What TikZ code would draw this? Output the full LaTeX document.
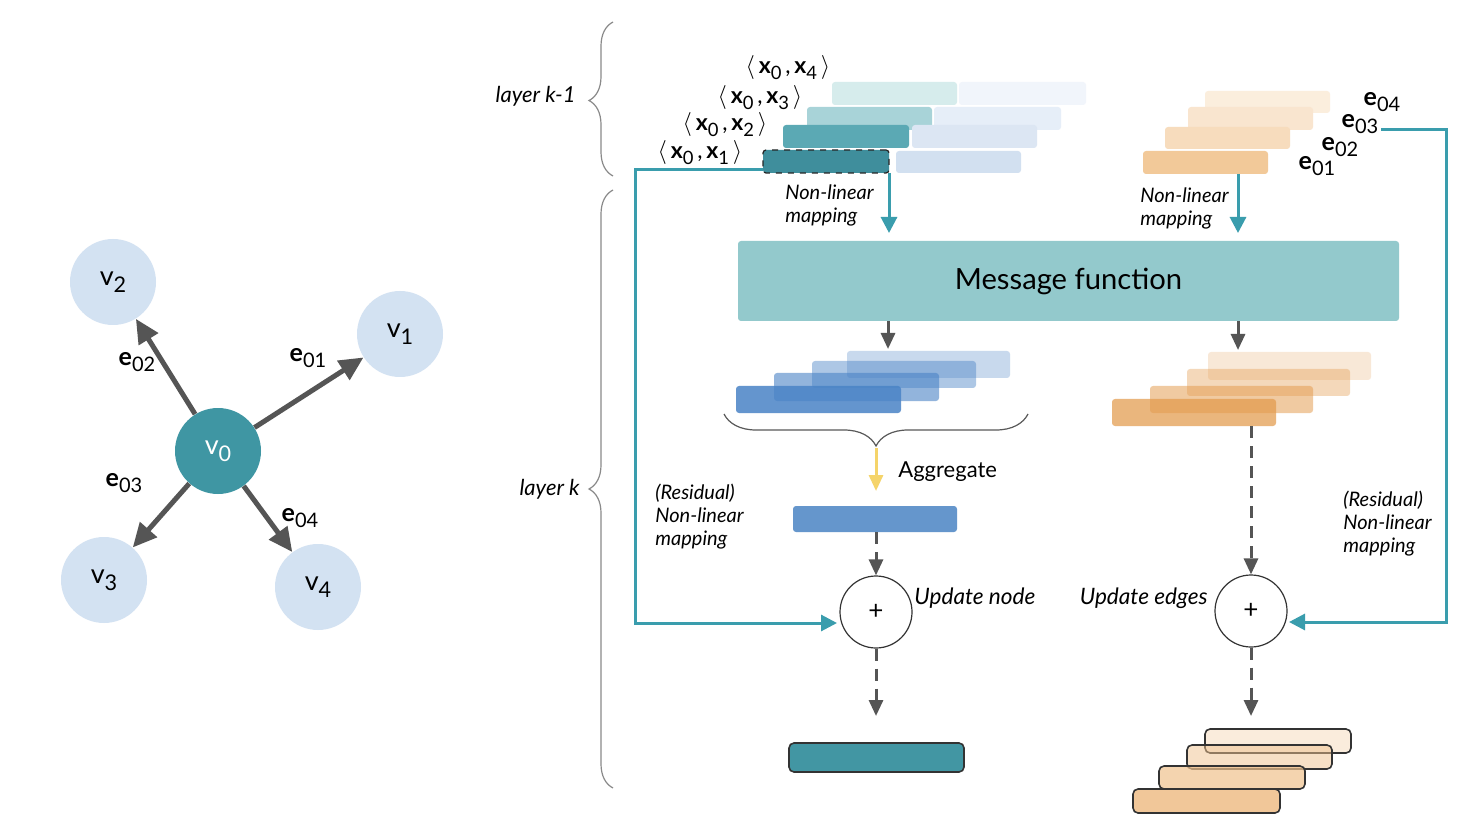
\documentclass[tikz,border=0pt]{standalone}
\usepackage{fontspec}
\setmainfont{Lato}
\usepackage{graphicx}
\usetikzlibrary{arrows.meta,decorations.pathreplacing,calc}
\definecolor{vtealc}{HTML}{3F96A3}
\definecolor{vlightc}{HTML}{D3E2F2}
\definecolor{arrgray}{HTML}{555555}
\definecolor{linkteal}{HTML}{3A9DAD}
\definecolor{bracegray}{HTML}{8A8A8A}
\definecolor{msgc}{HTML}{93C9CC}
\definecolor{aggblue}{HTML}{4A83C6}
\definecolor{aggorange}{HTML}{E39A4C}
\definecolor{edgeorange}{HTML}{F0C28E}
\definecolor{yellowc}{HTML}{F5D46A}
\definecolor{ta1}{HTML}{3F8E9C}
\definecolor{ta2}{HTML}{5BA9B4}
\definecolor{ta3}{HTML}{A8D3D8}
\definecolor{ta4}{HTML}{D6ECEC}
\definecolor{tb1}{HTML}{D2E0F0}
\definecolor{tb2}{HTML}{DCE6F3}
\definecolor{tb3}{HTML}{E6EEF8}
\definecolor{tb4}{HTML}{F1F5FB}
\definecolor{oe1}{HTML}{F2C999}
\definecolor{oe2}{HTML}{F7DCBD}
\definecolor{oe3}{HTML}{F9E5CF}
\definecolor{oe4}{HTML}{FBEEDD}
\definecolor{aggbar}{HTML}{6596CC}
\definecolor{finalteal}{HTML}{4296A3}
\newcommand{\sbs}[1]{\raisebox{-0.5ex}{\scalebox{0.8}{#1}}}
\newcommand{\mkbar}[6]{\node[barbox,#6, minimum width={(#4-#2)*0.5pt}, minimum height={(#5-#3)*0.5pt}] (#1) at ({(#2+#4)/2},{(#3+#5)/2}) {};}
\newcommand{\xpair}[1]{$\langle$\,\textbf{x}\sbs{0}\,,\,\textbf{x}\sbs{#1}\,$\rangle$}
\begin{document}
\begin{tikzpicture}[x=0.5pt,y=-0.5pt,
  barbox/.style={rectangle, rounded corners=1.5pt, inner sep=0pt, outer sep=0pt},
  vdark/.style={circle, fill=vtealc, minimum size=43pt, inner sep=0pt, text=white, font=\fontsize{13.5}{13.5}\selectfont},
  vlight/.style={circle, fill=vlightc, minimum size=43pt, inner sep=0pt, font=\fontsize{13.5}{13.5}\selectfont},
  garrow/.style={draw=arrgray, line width=2.5pt, -{Triangle[length=12pt,width=11pt]}},
  elab/.style={font=\fontsize{12.5}{12.5}\selectfont, inner sep=0pt},
  xlab/.style={font=\fontsize{11.5}{11.5}\selectfont, inner sep=0pt},
  tarrow/.style={draw=linkteal, line width=1.5pt, -{Triangle[length=8pt,width=8pt]}},
  sarrow/.style={draw=arrgray, line width=1.5pt, -{Triangle[length=8pt,width=7pt]}},
  darrow/.style={draw=arrgray, line width=1.5pt, dash pattern=on 6pt off 4pt, -{Triangle[length=8pt,width=7pt]}},
  yarrow/.style={draw=yellowc, line width=1.5pt, -{Triangle[length=8pt,width=7pt]}},
  lab/.style={font=\fontsize{10}{11.5}\selectfont\itshape, align=left, inner sep=0pt},
  ulab/.style={font=\fontsize{11.3}{12}\selectfont\itshape, inner sep=0pt},
  bracestyle/.style={draw=bracegray, line width=0.6pt, decorate},
  pluscirc/.style={circle, draw=black!80, line width=0.6pt, fill=white, minimum size=36pt, inner sep=0pt, font=\fontsize{13}{13}\selectfont},
  outline/.style={draw=black!80, line width=0.8pt}
]
\fill[white] (0,0) rectangle (1482,828);
\useasboundingbox (0,0) rectangle (1482,828);

% ---------------- graph ----------------
\node[vdark] (v0) at (218,451) {v\sbs{0}};
\node[vlight] (v1) at (400,334) {v\sbs{1}};
\node[vlight] (v2) at (113,282) {v\sbs{2}};
\node[vlight] (v3) at (104,580) {v\sbs{3}};
\node[vlight] (v4) at (318,587) {v\sbs{4}};
\draw[garrow] (v0) -- (v1);
\draw[garrow] (v0) -- (v2);
\draw[garrow] (v0) -- (v3);
\draw[garrow] (v0) -- (v4);
\node[elab] (le01) at (308,358) {\textbf{e}\sbs{01}};
\node[elab] (le02) at (137,362) {\textbf{e}\sbs{02}};
\node[elab] (le03) at (124,483) {\textbf{e}\sbs{03}};
\node[elab] (le04) at (300,518) {\textbf{e}\sbs{04}};

% ---------------- braces ----------------
\draw[bracestyle, decoration={brace, amplitude=12pt, aspect=0.49}] (613,176) -- (613,22);
\draw[bracestyle, decoration={brace, amplitude=12pt, aspect=0.5}] (613,788) -- (613,190);
\node[lab, font=\fontsize{11}{12}\selectfont\itshape, anchor=east] (lk1) at (576,96) {layer k-1};
\node[lab, font=\fontsize{11}{12}\selectfont\itshape, anchor=east] (lk) at (580,489) {layer k};

% ---------------- top-left stack (node pairs) ----------------
\mkbar{B4}{959}{82}{1086}{105}{fill=tb4}
\mkbar{A4}{832}{82}{957}{105}{fill=ta4}
\mkbar{B3}{934}{107}{1061}{130}{fill=tb3}
\mkbar{A3}{807}{107}{932}{130}{fill=ta3}
\mkbar{B2}{912}{125}{1037}{148}{fill=tb2}
\mkbar{A2}{783}{125}{909}{148}{fill=ta2}
\mkbar{B1}{896}{151}{1021}{173}{fill=tb1}
\mkbar{A1}{763}{150}{889}{173}{fill=ta1, draw=black!85, dashed, line width=0.6pt}
\node[xlab] (x1) at (700,153) {\xpair{1}};
\node[xlab] (x2) at (725,125) {\xpair{2}};
\node[xlab] (x3) at (760,98) {\xpair{3}};
\node[xlab] (x4) at (788,68) {\xpair{4}};

% ---------------- top-right stack (edges) ----------------
\mkbar{E4}{1205}{91}{1330}{113}{fill=oe4}
\mkbar{E3}{1188}{107}{1313}{130}{fill=oe3}
\mkbar{E2}{1165}{127}{1290}{149}{fill=oe2}
\mkbar{E1}{1143}{151}{1268}{174}{fill=oe1}
\node[elab] (te01) at (1317,166) {\textbf{e}\sbs{01}};
\node[elab] (te02) at (1340,147) {\textbf{e}\sbs{02}};
\node[elab] (te03) at (1360,124) {\textbf{e}\sbs{03}};
\node[elab] (te04) at (1382,102) {\textbf{e}\sbs{04}};

% ---------------- message function ----------------
\node[rectangle, fill=msgc, rounded corners=1.5pt, minimum width=330.5pt, minimum height=40pt, inner sep=0pt, font=\fontsize{14.6}{15}\selectfont] (mf) at (1068.5,281) {Message function};

\coordinate (nl1) at (889,233);
\coordinate (nl2) at (1238,233);
\coordinate (nl2s) at (1238,174);
\draw[tarrow] (A1.south east) -- (nl1);
\draw[tarrow] (nl2s) -- (nl2);
\node[lab, anchor=west] (nlm1) at (785,205) {Non-linear\\mapping};
\node[lab, anchor=west] (nlm2) at (1140,208) {Non-linear\\mapping};

% ---------------- message outputs ----------------
\mkbar{M4}{847}{351}{1010}{378}{fill=aggblue, fill opacity=0.3}
\mkbar{M3}{812}{361}{976}{388}{fill=aggblue, fill opacity=0.45}
\mkbar{M2}{774}{373}{939}{401}{fill=aggblue, fill opacity=0.6}
\mkbar{M1}{736}{386}{901}{413}{fill=aggblue, fill opacity=0.85}

\mkbar{O4}{1208}{352}{1371}{380}{fill=aggorange, fill opacity=0.22}
\mkbar{O3}{1187}{369}{1350}{396}{fill=aggorange, fill opacity=0.38}
\mkbar{O2}{1150}{386}{1313}{413}{fill=aggorange, fill opacity=0.52}
\mkbar{O1}{1112}{399}{1276}{426}{fill=aggorange, fill opacity=0.72}

\coordinate (mo1) at (888,349);
\coordinate (mo2) at (1238,350);
\draw[sarrow] (mf.south -| mo1) -- (mo1);
\draw[sarrow] (mf.south -| mo2) -- (mo2);

% aggregate brace
\draw[draw=black!65, line width=0.6pt, decorate, decoration={brace, amplitude=16pt}] (1028,414) -- (724,414);
\coordinate (agtop) at (876,448);
\coordinate (agend) at (876,491);
\draw[yarrow] (agtop) -- (agend);
\node[font=\fontsize{11}{11}\selectfont, anchor=west, inner sep=0pt] (aglab) at (898,472) {Aggregate};

\mkbar{AG}{793}{506}{957}{532}{fill=aggbar}

% ---------------- update ----------------
\node[pluscirc] (p1) at (876,612) {+};
\node[pluscirc] (p2) at (1251,611) {+};
\draw[darrow] (AG.south -| p1) -- (p1.north);
\draw[darrow] (O1.south -| p2) -- (p2.north);
\node[ulab, anchor=west] (un) at (914,598) {Update node};
\node[ulab, anchor=east] (ue) at (1208,598) {Update edges};
\node[lab, anchor=west] (res1) at (655,517) {(Residual)\\Non-linear\\mapping};
\node[lab, anchor=west] (res2) at (1343,524) {(Residual)\\Non-linear\\mapping};

% residual connectors
\coordinate (r1a) at (763,170);
\coordinate (r1b) at (635,170);
\coordinate (r1c) at (635,623);
\coordinate (r1d) at (837,623);
\draw[tarrow] (r1a) -- (r1b) -- (r1c) -- (r1d);
\coordinate (r2a) at (1381,130);
\coordinate (r2b) at (1446,130);
\coordinate (r2c) at (1446,622);
\coordinate (r2d) at (1289,622);
\draw[tarrow] (r2a) -- (r2b) -- (r2c) -- (r2d);

% ---------------- outputs ----------------
\coordinate (out1) at (876,716);
\coordinate (out2) at (1251,716);
\draw[darrow] (p1.south) -- (out1);
\draw[darrow] (p2.south) -- (out2);

\mkbar{F1}{789}{743}{964}{772}{fill=finalteal, outline, rounded corners=2.5pt}

\mkbar{G4}{1205}{729}{1351}{753}{fill=edgeorange, fill opacity=0.3, outline, rounded corners=2.5pt}
\mkbar{G3}{1187}{745}{1332}{769}{fill=edgeorange, fill opacity=0.5, outline, rounded corners=2.5pt}
\mkbar{G2}{1159}{766}{1305}{789}{fill=edgeorange, fill opacity=0.7, outline, rounded corners=2.5pt}
\mkbar{G1}{1133}{789}{1280}{813}{fill=edgeorange, fill opacity=0.9, outline, rounded corners=2.5pt}
\end{tikzpicture}
\end{document}
